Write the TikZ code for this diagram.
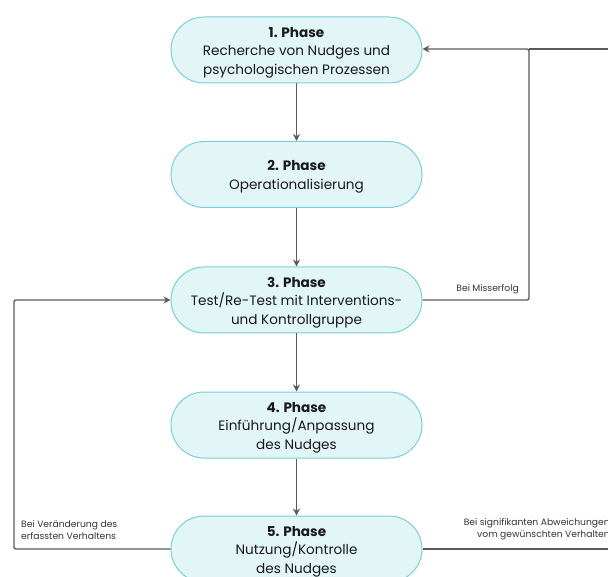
\documentclass[tikz,border=0pt]{standalone}
\usepackage{fontspec}
\setmainfont{Poppins}
\usetikzlibrary{arrows.meta}
\definecolor{phasefill}{HTML}{E2F6F8}
\definecolor{phaseline}{HTML}{7CCFD6}
\definecolor{linkgray}{HTML}{5A5A5A}
\definecolor{notegray}{HTML}{333333}
% bold heading line with a little extra room above it
\newcommand\phasehead[1]{\rule{0pt}{15pt}\textbf{#1}}
\tikzset{
  phase/.style={draw=phaseline, fill=phasefill, line width=1pt,
    minimum width=251pt, minimum height=66pt, rounded corners=33pt,
    align=center, font=\fontsize{13.6}{18.5}\selectfont, text=black!90, inner sep=0pt},
  link/.style={draw=linkgray, line width=1.4pt,
    -{Stealth[length=7pt,width=7pt]}},
  plain/.style={draw=linkgray, line width=1.4pt},
  note/.style={font=\fontsize{9.2}{12}\selectfont, text=notegray, inner sep=0pt}
}
\begin{document}
\begin{tikzpicture}[x=1pt,y=-1pt]
  \useasboundingbox (0,0) rectangle (608,577);
  \clip (0,0) rectangle (608,577);

  \node[phase] (p1) at (296.5,50) {\phasehead{1. Phase}\\Recherche von Nudges und\\psychologischen Prozessen};
  \node[phase] (p2) at (296.5,174.5) {\phasehead{2. Phase}\\Operationalisierung};
  \node[phase] (p3) at (296.5,300) {\phasehead{3. Phase}\\Test/Re-Test mit Interventions-\\und Kontrollgruppe};
  \node[phase] (p4) at (296.5,425) {\phasehead{4. Phase}\\Einführung/Anpassung\\des Nudges};
  \node[phase] (p5) at (296.5,549) {\phasehead{5. Phase}\\Nutzung/Kontrolle\\des Nudges};

  % main sequence
  \draw[link] (p1) -- (p2);
  \draw[link] (p2) -- (p3);
  \draw[link] (p3) -- (p4);
  \draw[link] (p4) -- (p5);

  % feedback loops
  \coordinate (rtop) at (529,49);
  \coordinate (redge) at (612,49);
  \coordinate (r3) at (529,300);
  \coordinate (l5) at (14,549);
  \coordinate (l3) at (14,300);
  \coordinate (r5) at (612,549);

  \draw[link, rounded corners=2pt] (p3.east) -- (r3) -- (rtop) -- (p1.east |- rtop);
  \draw[plain] (redge) -- (rtop);
  \draw[link, rounded corners=2pt] (p5.west) -- (l5) -- (l3) -- (p3.west);
  \draw[plain] (p5.east) -- (r5);

  % labels
  \node[note, anchor=south east] (n1) at (519,294) {Bei Misserfolg};
  \node[note, anchor=south west, align=left] (n2) at (21,540) {Bei Veränderung des\\erfassten Verhaltens};
  \node[note, anchor=south east, align=right] (n3) at (610,540) {Bei signifikanten Abweichungen\\vom gewünschten Verhalten};
\end{tikzpicture}
\end{document}
